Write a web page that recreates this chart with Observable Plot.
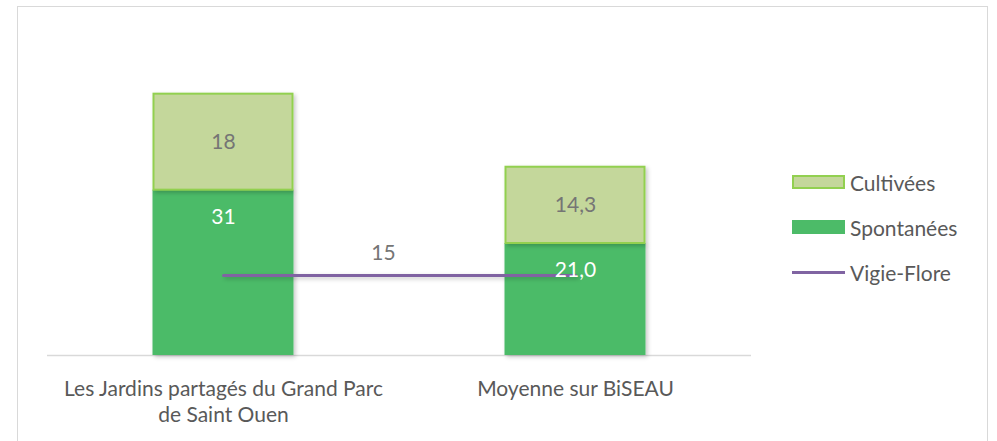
<!DOCTYPE html>
<html>
<head>
<meta charset="utf-8">
<script src="https://cdn.jsdelivr.net/npm/d3@7"></script>
<script src="https://cdn.jsdelivr.net/npm/@observablehq/plot@0.6"></script>
<style>
  html, body { margin: 0; padding: 0; background: #fff; }
  #wrap { position: relative; width: 997px; height: 441px; overflow: hidden; font-family: Lato, "Open Sans", sans-serif; }
  #frame { position: absolute; left: 17px; top: 6px; width: 971px; height: 460px; border: 1.5px solid #d9d9d9; box-sizing: border-box; }
  #chart { position: absolute; left: 0; top: 0; }
  #legend { position: absolute; left: 792px; top: 0; }
  .item { position: absolute; left: 0; display: flex; align-items: center; white-space: nowrap; color: #595959; font-size: 21px; }
  .sw { width: 53px; height: 14px; box-sizing: border-box; margin-right: 5px; }
  .ln { width: 53px; height: 3px; margin-right: 5px; }
</style>
</head>
<body>
<div id="wrap">
  <div id="frame"></div>
  <div id="chart"></div>
  <div id="legend"></div>
</div>
<script>
const categories = ["Les Jardins partagés du Grand Parc\nde Saint Ouen", "Moyenne sur BiSEAU"];
const spontanees = [31, 21.0];
const cultivees = [18, 14.3];
const vigieFlore = [15, 15];
const spontaneesLabels = ["31", "21,0"];
const cultiveesLabels = ["18", "14,3"];
const vigieLabel = "15";
const seriesNames = ["Cultivées", "Spontanées", "Vigie-Flore"];
const colors = { cult: "#c4d79b", cultStroke: "#92d050", spont: "#4cbb68", vigie: "#8064a2", text: "#595959", lab: "#757575" };

const spRows = categories.map((c, i) => ({ cat: c, y1: 0, y2: spontanees[i], label: spontaneesLabels[i] }));
const cuRows = categories.map((c, i) => ({ cat: c, y1: spontanees[i], y2: spontanees[i] + cultivees[i], label: cultiveesLabels[i] }));
const vfRows = categories.map((c, i) => ({ cat: c, v: vigieFlore[i] }));

const W = 997, H = 441;
const FS = 21;
const plot = Plot.plot({
  width: W, height: H,
  marginLeft: 47, marginRight: W - 751, marginTop: 35, marginBottom: H - 355,
  style: { fontFamily: "Lato, 'Open Sans', sans-serif", fontSize: FS + "px", background: "transparent", overflow: "visible" },
  x: { domain: categories, padding: 0, axis: null },
  y: { domain: [0, 60], axis: null },
  marks: [
    Plot.ruleY([0], { stroke: "#d9d9d9", strokeWidth: 1.5 }),
    Plot.barY(spRows, { x: "cat", y1: "y1", y2: "y2", fill: colors.spont, insetLeft: 105.5, insetRight: 105.5 }),
    Plot.barY(cuRows, { x: "cat", y1: "y1", y2: "y2", fill: colors.cult, stroke: colors.cultStroke, strokeWidth: 2, insetLeft: 106.5, insetRight: 106.5 }),
    Plot.line(vfRows, { x: "cat", y: "v", stroke: colors.vigie, strokeWidth: 3 }),
    Plot.text(cuRows, { x: "cat", y: d => (d.y1 + d.y2) / 2, text: "label", fill: colors.lab, fontSize: FS }),
    Plot.text(spRows, { x: "cat", y: "y2", text: "label", fill: "white", fontSize: FS, dy: 27 }),
    Plot.text(vfRows.slice(0, 1), { x: "cat", y: "v", text: () => vigieLabel, fill: colors.lab, fontSize: FS, dx: 160, dy: -22 }),
    Plot.text(categories, { x: d => d, y: () => 0, text: d => d, fill: colors.text, fontSize: FS, lineAnchor: "top", dy: 23, lineHeight: 1.2 })
  ]
});
document.getElementById("chart").appendChild(plot);

// soft shadows like the original
const svg = d3.select(plot);
const defs = svg.insert("defs", ":first-child");
const f = defs.append("filter").attr("id", "sh").attr("filterUnits", "userSpaceOnUse")
  .attr("x", 0).attr("y", 0).attr("width", W).attr("height", H);
f.append("feDropShadow").attr("dx", 2).attr("dy", 2).attr("stdDeviation", 2).attr("flood-color", "#000").attr("flood-opacity", 0.22);
svg.selectAll("g[aria-label=bar]").attr("filter", "url(#sh)");
svg.selectAll("g[aria-label=line]").attr("filter", "url(#sh)");

// legend
const legend = document.getElementById("legend");
const rows = [
  { name: seriesNames[0], kind: "sw", fill: colors.cult, stroke: colors.cultStroke, top: 182 },
  { name: seriesNames[1], kind: "sw", fill: colors.spont, stroke: null, top: 227 },
  { name: seriesNames[2], kind: "ln", fill: colors.vigie, stroke: null, top: 272 }
];
rows.forEach(r => {
  const it = document.createElement("div");
  it.className = "item";
  it.style.top = (r.top - 13) + "px";
  it.style.height = "26px";
  const s = document.createElement("div");
  s.className = r.kind;
  s.style.background = r.fill;
  if (r.stroke) s.style.border = "2px solid " + r.stroke;
  it.appendChild(s);
  const t = document.createElement("span");
  t.textContent = r.name;
  it.appendChild(t);
  legend.appendChild(it);
});
</script>
</body>
</html>
